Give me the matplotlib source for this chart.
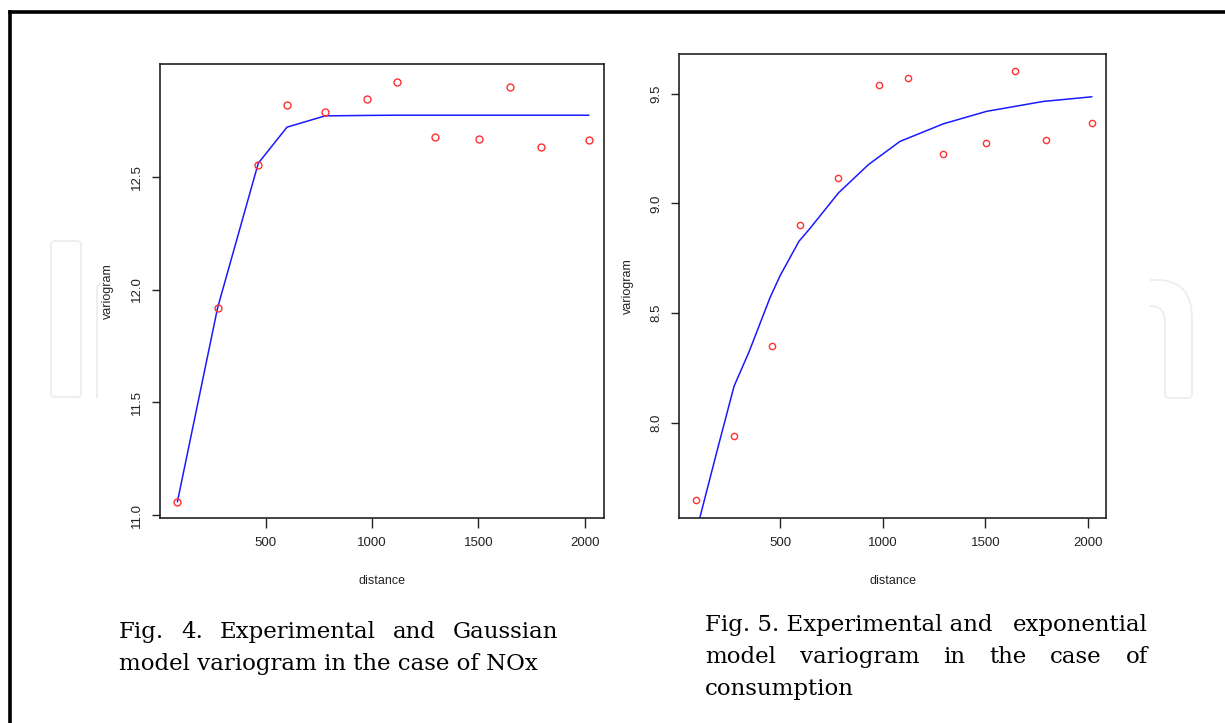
import matplotlib
matplotlib.use("Agg")
import matplotlib.pyplot as plt
from matplotlib.patches import FancyBboxPatch, PathPatch
from matplotlib.path import Path

# Fig. 4 - NOx, experimental points and Gaussian model
nox_lag = [85, 274, 465, 600, 779, 977, 1117, 1294, 1502, 1648, 1795, 2018]
nox_gamma = [11.059, 11.916, 12.554, 12.820, 12.788, 12.843, 12.922,
             12.676, 12.668, 12.899, 12.630, 12.661]
nox_model = [11.06, 11.92, 12.56, 12.72, 12.77, 12.772, 12.773,
             12.773, 12.773, 12.773, 12.773, 12.773]

# Fig. 5 - consumption, experimental points and exponential model
cons_lag = [90, 278, 463, 599, 782, 980, 1123, 1292, 1503, 1644, 1793, 2017]
cons_gamma = [7.651, 7.939, 8.349, 8.902, 9.116, 9.539, 9.571,
              9.223, 9.276, 9.601, 9.287, 9.366]
cons_model_x = [90, 109, 197, 276, 350, 451, 500, 592, 646, 784,
                930, 1084, 1295, 1506, 1782, 2017]
cons_model_y = [7.50, 7.567, 7.886, 8.167, 8.326, 8.57, 8.67, 8.827, 8.886,
                9.047, 9.176, 9.282, 9.362, 9.419, 9.464, 9.485]

x_ticks = [500, 1000, 1500, 2000]
nox_yticks = [11.0, 11.5, 12.0, 12.5]
cons_yticks = [8.0, 8.5, 9.0, 9.5]

caption_left = ["Fig.  4.  Experimental  and  Gaussian",
                "model variogram in the case of NOx"]
caption_right = ["Fig. 5. Experimental and   exponential",
                 "model variogram in the case of",
                 "consumption"]

W, H = 1225, 723
fig = plt.figure(figsize=(W / 100, H / 100), dpi=100)
plt.rcParams["font.family"] = ["Liberation Sans", "DejaVu Sans"]

# Background layer in pixel coordinates: page frame and faint logo.
bg = fig.add_axes([0, 0, 1, 1])
bg.set_xlim(0, W)
bg.set_ylim(H, 0)
bg.axis("off")
bg.plot([10, 10], [H, 11.5], color="black", lw=2.6, solid_capstyle="projecting")
bg.plot([10, W], [11.5, 11.5], color="black", lw=2.6, solid_capstyle="projecting")

wm = "#ededed"
bg.add_patch(FancyBboxPatch((51, 241), 30, 156, boxstyle="round,pad=0,rounding_size=4",
                            fill=False, ec=wm, lw=1.3))
bg.plot([97, 97, 100], [397, 287, 283], color=wm, lw=1.3)
n_path = Path(
    [(1150, 280), (1160, 280), (1192, 282), (1192, 318), (1192, 394), (1192, 398),
     (1188, 398), (1169, 398), (1165, 398), (1165, 394), (1165, 322), (1165, 306),
     (1150, 306)],
    [Path.MOVETO, Path.LINETO, Path.CURVE3, Path.CURVE3, Path.LINETO, Path.CURVE3,
     Path.CURVE3, Path.LINETO, Path.CURVE3, Path.CURVE3, Path.LINETO, Path.CURVE3,
     Path.CURVE3])
bg.add_patch(PathPatch(n_path, fill=False, ec=wm, lw=1.3))


def panel(box, xlim, ylim, yticks, pts_x, pts_y, line_x, line_y, ms):
    l, t, r, b = box
    ax = fig.add_axes([l / W, 1 - b / H, (r - l) / W, (b - t) / H])
    ax.set_facecolor("white")
    ax.plot(line_x, line_y, color="#1a1aff", lw=1.1, zorder=2)
    ax.plot(pts_x, pts_y, "o", ms=ms, mfc="none", mec="#ff3030", mew=1.0, zorder=3)
    ax.set_xlim(*xlim)
    ax.set_ylim(*ylim)
    ax.set_xticks(x_ticks)
    ax.set_yticks(yticks)
    ax.set_yticklabels([f"{v:.1f}" for v in yticks], rotation=90, va="center")
    for s in ax.spines.values():
        s.set_color("#222222")
        s.set_linewidth(1.2)
    ax.tick_params(axis="x", direction="out", length=7, width=1, pad=7,
                   labelsize=9.5, colors="#222222")
    ax.tick_params(axis="y", direction="out", length=6, width=1, pad=6,
                   labelsize=9.5, colors="#222222")
    return ax


panel((160, 64, 604, 518), (3, 2090), (10.987, 13.0), nox_yticks,
      nox_lag, nox_gamma, nox_lag, nox_model, 5)
panel((679, 54, 1106, 518), (8, 2087), (7.567, 9.68), cons_yticks,
      cons_lag, cons_gamma, cons_model_x, cons_model_y, 4.5)

lab = dict(fontsize=9, color="#222222")
bg.text(108, 291, "variogram", rotation=90, ha="center", va="center", **lab)
bg.text(628, 286, "variogram", rotation=90, ha="center", va="center", **lab)
bg.text(382, 581, "distance", ha="center", va="center", **lab)
bg.text(893, 581, "distance", ha="center", va="center", **lab)

cap = dict(fontsize=16.5, color="black", family="DejaVu Serif", va="center")
renderer = fig.canvas.get_renderer()


def caption_line(text, x0, x1, y, justify):
    if not justify:
        bg.text(x0, y, text, ha="left", **cap)
        return
    words = text.split("   ") if "   " in text else text.split()
    arts = [bg.text(0, y, w, ha="left", **cap) for w in words]
    widths = [a.get_window_extent(renderer).width for a in arts]
    gap = (x1 - x0 - sum(widths)) / (len(words) - 1)
    x = x0
    for a, w in zip(arts, widths):
        a.set_x(x)
        x += w + gap


caption_line(caption_left[0], 119, 558, 632, True)
caption_line(caption_left[1], 119, 558, 664, False)
caption_line(caption_right[0], 705, 1148, 625, True)
caption_line(caption_right[1], 705, 1148, 657, True)
caption_line(caption_right[2], 705, 1148, 689, False)

fig.savefig("out.png", dpi=100)
